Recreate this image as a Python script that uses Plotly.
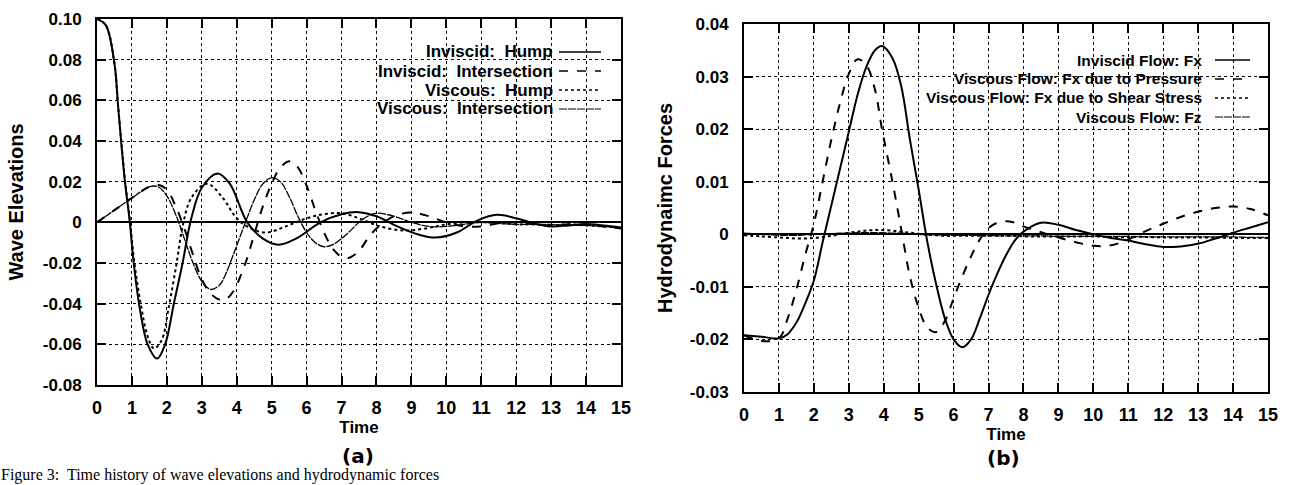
import plotly.graph_objects as go

# ---------------- data: panel (a) wave elevations ----------------
t_a = [0, 0.25, 0.5, 0.6, 0.7, 0.8, 0.94, 1.05, 1.25, 1.45, 1.72, 1.95, 2.2, 2.45, 2.7,
       3.0, 3.45, 3.8, 4.3, 4.75, 5.2, 5.7, 6.4, 7.0, 7.5, 8.0, 8.6, 9.2, 9.7, 10.3,
       10.9, 11.45, 12.0, 12.5, 13.0, 13.5, 14.0, 14.5, 15.0]
inv_hump = [0.100, 0.097, 0.078, 0.058, 0.038, 0.020, 0.000, -0.020, -0.045, -0.060, -0.067,
            -0.060, -0.040, -0.020, 0.002, 0.017, 0.024, 0.019, 0.000, -0.008, -0.011, -0.008,
            0.000, 0.004, 0.005, 0.003, -0.002, -0.006, -0.0075, -0.005, 0.001, 0.0037, 0.002,
            -0.0005, -0.002, -0.0015, -0.0008, -0.0015, -0.0025]

t_b = [0, 0.5, 1.0, 1.5, 1.75, 2.0, 2.25, 2.5, 2.75, 3.0, 3.25, 3.5, 3.67, 3.9, 4.25, 4.5,
       4.75, 5.0, 5.25, 5.52, 5.75, 6.0, 6.25, 6.5, 6.75, 7.0, 7.2, 7.5, 7.75, 8.0, 8.5,
       9.0, 9.5, 10.0, 10.5, 11.0, 11.5, 12.0, 12.5, 13.0, 13.5, 14.0, 14.5, 15.0]
inv_inter = [0.000, 0.006, 0.012, 0.0175, 0.0185, 0.016, 0.008, -0.003, -0.016, -0.028, -0.035,
             -0.038, -0.038, -0.034, -0.020, -0.006, 0.008, 0.019, 0.027, 0.030, 0.027, 0.018,
             0.006, -0.005, -0.013, -0.017, -0.0175, -0.014, -0.008, -0.003, 0.003, 0.0048,
             0.003, 0.000, -0.002, -0.002, -0.0005, 0.000, -0.001, -0.0015, -0.001, -0.0012,
             -0.002, -0.003]
vis_inter = [0.000, 0.006, 0.012, 0.0175, 0.0175, 0.013, 0.004, -0.008, -0.020, -0.029, -0.033,
             -0.031, -0.026, -0.016, 0.000, 0.011, 0.019, 0.022, 0.020, 0.012, 0.003, -0.005,
             -0.010, -0.012, -0.011, -0.008, -0.005, 0.000, 0.003, 0.0045, 0.003, 0.000,
             -0.002, -0.002, -0.001, 0.000, -0.0005, -0.001, -0.001, -0.001, -0.0015, -0.0015,
             -0.002, -0.003]

t_c = [0, 0.25, 0.5, 0.6, 0.7, 0.8, 0.95, 1.05, 1.25, 1.45, 1.63, 1.85, 2.05, 2.28, 2.45,
       2.7, 3.15, 3.6, 4.0, 4.4, 4.86, 5.4, 6.0, 6.5, 7.0, 7.5, 8.1, 8.8, 9.4, 10.0, 10.6,
       11.2, 12.0, 12.5, 13.0, 13.5, 14.0, 14.5, 15.0]
vis_hump = [0.100, 0.097, 0.078, 0.058, 0.039, 0.021, 0.000, -0.017, -0.040, -0.056, -0.062,
            -0.058, -0.042, -0.020, -0.002, 0.012, 0.019, 0.012, 0.002, -0.003, -0.005, -0.002,
            0.002, 0.004, 0.0045, 0.002, -0.002, -0.004, -0.003, -0.001, 0.000, 0.000, -0.001,
            -0.001, -0.0015, -0.001, -0.0015, -0.002, -0.0025]

# ---------------- data: panel (b) hydrodynamic forces ----------------
t_f = [0, 0.5, 1.0, 1.25, 1.5, 1.75, 2.0, 2.25, 2.5, 2.75, 3.0, 3.25, 3.5, 3.75, 3.95,
       4.25, 4.5, 4.75, 5.0, 5.25, 5.5, 5.75, 6.0, 6.25, 6.5, 6.75, 7.0, 7.25, 7.5, 7.75,
       8.0, 8.5, 9.0, 9.5, 10.0, 10.5, 11.0, 11.5, 12.0, 12.5, 13.0, 13.5, 14.0, 14.5, 15.0]
fx_inviscid = [-0.0192, -0.0195, -0.0198, -0.0190, -0.0168, -0.0132, -0.0088, -0.0015,
               0.0055, 0.0125, 0.0195, 0.0265, 0.0318, 0.0350, 0.0358, 0.0335, 0.0282,
               0.0180, 0.0085, -0.0015, -0.0095, -0.0160, -0.0200, -0.0215, -0.0200, -0.0160,
               -0.0115, -0.0075, -0.0040, -0.0012, 0.0005, 0.0022, 0.0018, 0.0008, 0.0000,
               -0.0007, -0.0012, -0.0019, -0.0024, -0.0023, -0.0018, -0.0008, 0.0003, 0.0013,
               0.0023]
fx_pressure = [-0.0192, -0.0203, -0.0198, -0.0160, -0.0105, -0.0040, 0.0020, 0.0100, 0.0180,
               0.0250, 0.0305, 0.0333, 0.0322, 0.0275, 0.0200, 0.0100, 0.0010, -0.0080,
               -0.0140, -0.0178, -0.0186, -0.0165, -0.0122, -0.0080, -0.0042, -0.0010, 0.0012,
               0.0022, 0.0025, 0.0022, 0.0015, 0.0004, -0.0006, -0.0015, -0.0022, -0.0021,
               -0.0010, 0.0006, 0.0020, 0.0033, 0.0043, 0.0050, 0.0053, 0.0048, 0.0036]
fx_shear = [-0.0002, -0.0004, -0.0006, -0.0007, -0.0008, -0.0008, -0.0007, -0.0005, -0.0003,
            0.0000, 0.0003, 0.0005, 0.0007, 0.0008, 0.0008, 0.0007, 0.0005, 0.0003, 0.0001,
            -0.0001, -0.0002, -0.0003, -0.0003, -0.0003, -0.0003, -0.0003, -0.0003, -0.0003,
            -0.0003, -0.0003, -0.0004, -0.0004, -0.0004, -0.0004, -0.0004, -0.0005, -0.0005,
            -0.0005, -0.0006, -0.0006, -0.0006, -0.0006, -0.0007, -0.0007, -0.0007]
fz_viscous = [0.0002, 0.0000, -0.0002, -0.0002, -0.0002, -0.0001, 0.0000, 0.0001, 0.0001,
              0.0002, 0.0002, 0.0003, 0.0003, 0.0003, 0.0003, 0.0002, 0.0002, 0.0001, 0.0000,
              -0.0001, -0.0001, -0.0002, -0.0002, -0.0002, -0.0002, -0.0002, -0.0002, -0.0003,
              -0.0003, -0.0003, -0.0003, -0.0003, -0.0004, -0.0004, -0.0004, -0.0004, -0.0004,
              -0.0005, -0.0005, -0.0005, -0.0005, -0.0005, -0.0005, -0.0006, -0.0006]

# ---------------- tick labels ----------------
x_ticks = list(range(0, 16))
ya_vals = [0.10, 0.08, 0.06, 0.04, 0.02, 0, -0.02, -0.04, -0.06, -0.08]
ya_text = ["0.10", "0.08", "0.06", "0.04", "0.02", "0", "-0.02", "-0.04", "-0.06", "-0.08"]
yb_vals = [0.04, 0.03, 0.02, 0.01, 0, -0.01, -0.02, -0.03]
yb_text = ["0.04", "0.03", "0.02", "0.01", "0", "-0.01", "-0.02", "-0.03"]

legend_a = ["Inviscid:  Hump", "Inviscid:  Intersection", "Viscous:  Hump", "Viscous:  Intersection"]
legend_b = ["Inviscid Flow: Fx", "Viscous Flow: Fx due to Pressure",
            "Viscous Flow: Fx due to Shear Stress", "Viscous Flow: Fz"]

# ---------------- figure ----------------
W, H = 1294, 485
FONT = "Liberation Sans"
dash_a = ["solid", "dash", "dot", "8px,1px"]
width_a = [2, 2, 2, 1.3]
leg_w = [1.6, 1.6, 1.6, 1.2]

fig = go.Figure()

series_a = [(t_a, inv_hump), (t_b, inv_inter), (t_c, vis_hump), (t_b, vis_inter)]
for (tx, ty), d, w in zip(series_a, dash_a, width_a):
    fig.add_trace(go.Scatter(x=tx, y=ty, mode="lines", xaxis="x", yaxis="y",
                             line=dict(color="black", width=w, dash=d, shape="spline", smoothing=1.0),
                             showlegend=False, hoverinfo="skip"))

series_b = [fx_inviscid, fx_pressure, fx_shear, fz_viscous]
for ty, d, w in zip(series_b, dash_a, width_a):
    fig.add_trace(go.Scatter(x=t_f, y=ty, mode="lines", xaxis="x2", yaxis="y2",
                             line=dict(color="black", width=w, dash=d, shape="spline", smoothing=1.0),
                             showlegend=False, hoverinfo="skip"))

def px_x(p):
    return p / W

def px_y(p):
    return 1 - p / H

common_x = dict(range=[0, 15], tickvals=x_ticks, ticktext=[str(v) for v in x_ticks],
                showgrid=True, gridcolor="black", griddash="dot", gridwidth=1,
                showline=True, linecolor="black", linewidth=2, mirror="ticks",
                ticks="inside", ticklen=9, tickwidth=2, tickcolor="black",
                zeroline=False, fixedrange=True, ticklabelstandoff=5, automargin=False,
                tickfont=dict(family=FONT, size=18, color="black", weight="bold"),
                title=dict(text="Time", standoff=0,
                           font=dict(family=FONT, size=17, color="black", weight="bold")))
common_y = dict(showgrid=True, gridcolor="black", griddash="dot", gridwidth=1,
                showline=True, linecolor="black", linewidth=2, mirror="ticks",
                ticks="inside", ticklen=9, tickwidth=2, tickcolor="black",
                zeroline=True, zerolinecolor="black", zerolinewidth=2, fixedrange=True,
                ticklabelstandoff=10, automargin=False,
                tickfont=dict(family=FONT, size=17, color="black", weight="bold"))

fig.update_layout(
    width=W, height=H, margin=dict(l=0, r=0, t=0, b=0, autoexpand=False),
    paper_bgcolor="white", plot_bgcolor="white", showlegend=False,
    xaxis=dict(domain=[px_x(97), px_x(621)], anchor="y", **common_x),
    yaxis=dict(domain=[px_y(385), px_y(19)], anchor="x", range=[-0.08, 0.10],
               tickvals=ya_vals, ticktext=ya_text,
               title=dict(text="Wave Elevations", standoff=14,
                          font=dict(family=FONT, size=20, color="black", weight="bold")),
               **common_y),
    xaxis2=dict(domain=[px_x(744), px_x(1268)], anchor="y2", **common_x),
    yaxis2=dict(domain=[px_y(392), px_y(24)], anchor="x2", range=[-0.03, 0.04],
                tickvals=yb_vals, ticktext=yb_text,
                title=dict(text="Hydrodynaimc Forces", standoff=12,
                           font=dict(family=FONT, size=20, color="black", weight="bold")),
                **common_y),
)

shapes = []
annotations = []

# legend box (a)
shapes.append(dict(type="rect", xref="paper", yref="paper", layer="between",
                   x0=px_x(343), x1=px_x(620), y0=px_y(127), y1=px_y(20),
                   fillcolor="white", line=dict(width=0)))
rows_a = [52, 71, 90, 109]
for label, yy, d, w in zip(legend_a, rows_a, dash_a, leg_w):
    annotations.append(dict(x=px_x(555), y=px_y(yy), xref="paper", yref="paper", text=label,
                            showarrow=False, xanchor="right", yanchor="middle",
                            font=dict(family=FONT, size=17, color="black", weight="bold")))
    shapes.append(dict(type="line", xref="paper", yref="paper", x0=px_x(559), x1=px_x(601),
                       y0=px_y(yy), y1=px_y(yy), line=dict(color="black", width=w, dash=d)))

# legend box (b)
shapes.append(dict(type="rect", xref="paper", yref="paper", layer="between",
                   x0=px_x(920), x1=px_x(1267), y0=px_y(128), y1=px_y(25),
                   fillcolor="white", line=dict(width=0)))
rows_b = [60, 79, 98, 117]
for label, yy, d, w in zip(legend_b, rows_b, dash_a, leg_w):
    annotations.append(dict(x=px_x(1204), y=px_y(yy), xref="paper", yref="paper", text=label,
                            showarrow=False, xanchor="right", yanchor="middle",
                            font=dict(family=FONT, size=15.5, color="black", weight="bold")))
    shapes.append(dict(type="line", xref="paper", yref="paper", x0=px_x(1215), x1=px_x(1250),
                       y0=px_y(yy), y1=px_y(yy), line=dict(color="black", width=w, dash=d)))

# panel captions
annotations.append(dict(x=px_x(358), y=px_y(456), xref="paper", yref="paper", text="(a)",
                        showarrow=False, xanchor="center", yanchor="middle",
                        font=dict(family="DejaVu Sans", size=20, color="black", weight="bold")))
annotations.append(dict(x=px_x(1003), y=px_y(458), xref="paper", yref="paper", text="(b)",
                        showarrow=False, xanchor="center", yanchor="middle",
                        font=dict(family="DejaVu Sans", size=20, color="black", weight="bold")))
annotations.append(dict(x=0, y=0, xref="paper", yref="paper",
                        text="Figure 3:  Time history of wave elevations and hydrodynamic forces",
                        showarrow=False, xanchor="left", yanchor="bottom", borderpad=0,
                        font=dict(family="Liberation Serif", size=16, color="black")))

fig.update_layout(shapes=shapes, annotations=annotations)
fig.write_html("out.html", config={"displayModeBar": False, "staticPlot": True},
               post_script="document.body.style.margin='0px';document.body.style.overflow='hidden';")
